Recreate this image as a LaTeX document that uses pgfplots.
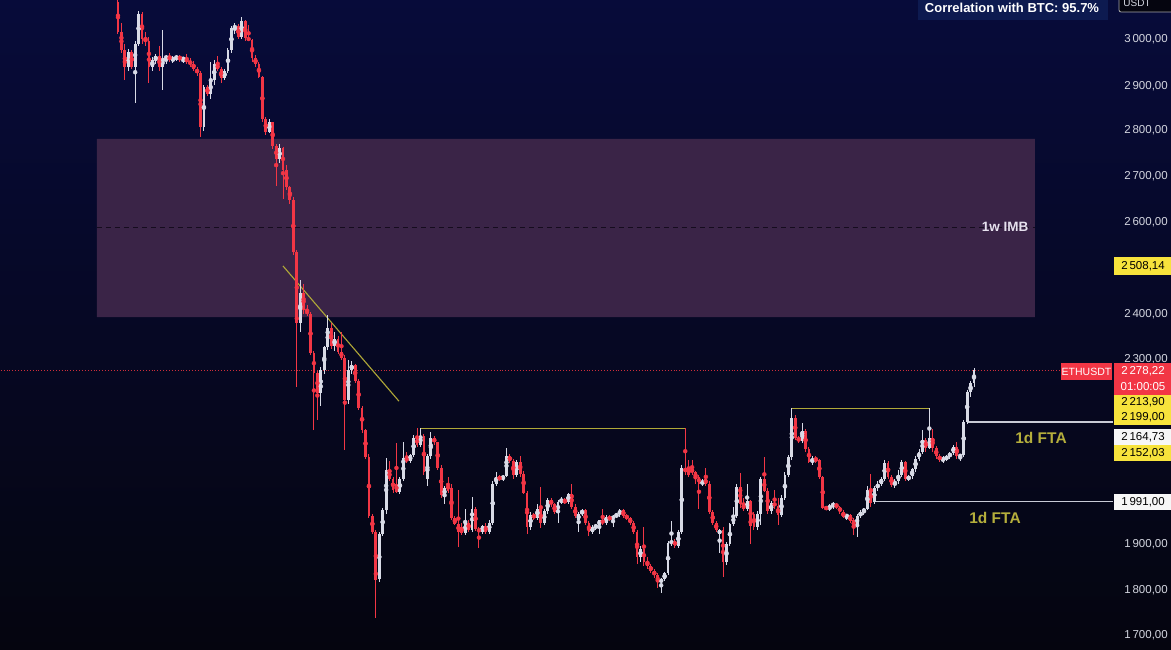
\documentclass[border=0pt]{standalone}
\usepackage{pgfplots}
\pgfplotsset{compat=1.18}
\usepackage{pgfplotstable}
\usepackage{fontspec}
\setmainfont{Liberation Sans}
\definecolor{bgtop}{HTML}{070B3A}
\definecolor{bgbot}{HTML}{05050F}
\definecolor{imb}{HTML}{3A2447}
\definecolor{imbdash}{HTML}{150C1E}
\definecolor{upc}{HTML}{D8DAE6}
\definecolor{dnc}{HTML}{F23645}
\definecolor{olivel}{HTML}{B0A838}
\definecolor{olivetxt}{HTML}{B5AE3C}
\definecolor{lvl}{HTML}{C8CAD6}
\definecolor{ylab}{HTML}{F7E33C}
\definecolor{corrbox}{HTML}{0D1A50}
\definecolor{ptxt}{HTML}{D4D6E0}
\definecolor{imbtxt}{HTML}{E6E1EE}

\pgfplotstableread{
o h l c
3080 3092 3010 3015
3015 3035 2970 2975
2975 2990 2910 2940
2940 2978 2930 2972
2972 2975 2935 2940
2940 2995 2860 2990
2990 3062 2985 3055
3055 3058 2990 3000
3000 3015 2985 2995
2995 3005 2905 2940
2940 2960 2930 2955
2955 2968 2945 2962
2962 2985 2930 2938
2938 3020 2888 2958
2958 2965 2945 2962
2962 2970 2950 2955
2955 2962 2948 2958
2958 2965 2952 2962
2962 2966 2950 2956
2956 2960 2948 2958
2958 2968 2945 2950
2950 2958 2940 2946
2946 2952 2930 2935
2935 2940 2920 2925
2925 2930 2786 2808
2808 2900 2800 2895
2895 2900 2875 2880
2880 2950 2870 2910
2910 2955 2900 2945
2945 2962 2930 2935
2935 2940 2905 2915
2915 2935 2910 2930
2930 2980 2925 2976
2976 3028 2970 3024
3024 3035 3010 3028
3028 3032 3000 3005
3005 3048 3000 3040
3040 3042 2995 3002
3002 3030 2995 2998
2998 3000 2950 2958
2958 2965 2940 2945
2945 2950 2915 2917
2917 2920 2820 2825
2825 2830 2790 2798
2798 2825 2795 2818
2818 2820 2760 2766
2766 2770 2680 2738
2738 2770 2730 2762
2762 2765 2650 2715
2715 2725 2670 2677
2677 2680 2640 2649
2649 2655 2530 2535
2535 2540 2241 2381
2381 2474 2360 2446
2446 2465 2400 2409
2409 2420 2395 2400
2400 2405 2310 2315
2315 2320 2147 2271
2271 2275 2170 2228
2228 2285 2200 2278
2278 2330 2270 2328
2328 2398 2322 2370
2370 2380 2325 2330
2330 2360 2320 2345
2345 2352 2312 2318
2318 2360 2300 2305
2305 2310 2104 2213
2213 2300 2205 2278
2278 2298 2270 2290
2290 2292 2250 2255
2255 2258 2190 2195
2195 2200 2140 2147
2147 2150 2085 2089
2089 2095 1955 1960
1960 1965 1920 1925
1925 1930 1737 1820
1822 1925 1815 1920
1920 1978 1915 1973
1973 2086 1965 2060
2060 2080 2035 2040
2040 2045 2010 2016
2030 2119 2010 2012
2012 2045 2008 2040
2040 2121 2035 2086
2086 2100 2075 2080
2080 2095 2075 2093
2093 2136 2088 2130
2130 2152 2110 2115
2115 2152 2110 2135
2135 2138 2050 2055
2040 2095 2025 2090
2090 2142 2085 2130
2130 2135 2115 2120
2120 2122 2060 2065
2065 2070 2000 2005
2005 2025 1985 2020
2028 2045 2010 2015
2020 2030 1950 1955
1955 1960 1940 1942
1942 2016 1892 1925
1935 1945 1918 1923
1923 1975 1918 1945
1945 1950 1925 1930
1930 2001 1925 1975
1975 1980 1928 1932
1932 1935 1890 1925
1925 1940 1920 1938
1938 1945 1920 1925
1925 1950 1920 1945
1945 2035 1940 2030
2030 2055 2025 2045
2045 2050 2035 2040
2040 2050 2035 2048
2048 2108 2045 2090
2090 2095 2075 2080
2080 2085 2040 2050
2050 2082 2045 2078
2078 2090 2045 2052
2052 2058 2008 2010
2010 2015 1920 1936
1936 1968 1930 1962
1962 1966 1952 1956
1956 1985 1950 1975
1975 2023 1934 1945
1945 1975 1940 1970
1970 1998 1965 1995
1995 1998 1980 1985
1985 1988 1965 1968
1968 1995 1945 1990
1990 2002 1985 1995
1995 1998 1985 1990
1990 2010 1985 2008
2008 2030 1975 1980
1980 1985 1955 1960
1950 1968 1925 1965
1965 1975 1960 1972
1972 1975 1940 1945
1945 1948 1915 1925
1925 1940 1920 1935
1935 1942 1930 1940
1940 1952 1920 1950
1950 1975 1940 1945
1945 1962 1940 1958
1958 1962 1948 1952
1952 1962 1935 1960
1960 1966 1955 1963
1963 1976 1958 1973
1973 1976 1955 1960
1960 1965 1950 1955
1955 1958 1940 1945
1945 1948 1920 1925
1925 1930 1855 1870
1870 1895 1860 1888
1888 1936 1850 1860
1860 1870 1845 1850
1850 1855 1835 1840
1840 1845 1825 1830
1830 1835 1803 1815
1815 1825 1792 1822
1822 1838 1818 1835
1835 1905 1830 1900
1900 1948 1895 1905
1905 1910 1890 1895
1895 1930 1890 1925
1925 2070 1920 2065
2065 2152 2050 2055
2064 2082 2045 2050
2062 2082 2050 2055
2055 2058 2030 2042
2045 2050 1975 2030
2030 2040 2025 2036
2040 2065 2025 2030
2030 2035 1965 1968
1968 1972 1940 1945
1945 1948 1925 1930
1920 1932 1880 1930
1930 1935 1827 1860
1860 1902 1852 1898
1898 1945 1895 1942
1942 1979 1938 1960
1960 2030 1955 2023
2023 2053 1978 1985
1985 2000 1970 1975
1975 2030 1970 1992
1992 1995 1898 1938
1965 1968 1930 1936
1936 1970 1930 1965
1965 2045 1940 2040
2040 2089 2012 2015
2015 2020 1965 1970
1970 1992 1965 1988
1988 2016 1975 1982
1982 2000 1940 1962
1962 2005 1958 1998
1998 2055 1995 2050
2050 2092 2045 2088
2088 2196 2082 2174
2174 2180 2125 2130
2130 2135 2118 2124
2124 2162 2118 2145
2145 2150 2100 2106
2106 2110 2075 2078
2078 2090 2070 2085
2085 2090 2075 2082
2082 2085 2040 2045
2045 2048 1975 1978
1978 1982 1972 1976
1976 1985 1970 1982
1982 1990 1975 1986
1986 1988 1975 1980
1980 1982 1965 1968
1968 1972 1955 1958
1958 1965 1950 1962
1962 1965 1945 1948
1950 1955 1918 1938
1938 1965 1914 1960
1960 1972 1955 1968
1968 1978 1962 1976
1976 2025 1972 2016
2016 2052 1980 1988
1991 2025 1985 2021
2021 2035 2015 2030
2030 2045 2025 2040
2040 2082 2035 2076
2076 2080 2040 2045
2045 2050 2022 2028
2028 2040 2020 2036
2036 2060 2030 2050
2050 2082 2045 2078
2078 2080 2035 2040
2040 2050 2035 2046
2046 2065 2040 2062
2062 2090 2055 2085
2085 2105 2080 2100
2100 2147 2095 2125
2125 2130 2100 2108
2108 2196 2105 2130
2130 2150 2100 2108
2108 2112 2085 2090
2090 2095 2078 2082
2082 2090 2075 2085
2085 2092 2080 2088
2088 2100 2085 2098
2098 2115 2092 2110
2110 2120 2085 2090
2090 2095 2080 2092
2092 2170 2088 2165
2165 2235 2160 2230
2230 2255 2220 2250
2250 2283 2240 2278
}\candles
\pgfplotstablecreatecol[expr={\pgfplotstablerow}]{i}{\candles}

\pgfplotsset{
  candle/.style n args={2}{only marks, mark=none, forget plot, color=#1,
    error bars/.cd, y dir=both, y explicit, error mark=none,
    error mark options={draw=none, fill=none, mark size=0pt},
    error bar style={draw=#1, line width=#2}},
}

\begin{document}
\begin{tikzpicture}
\path[use as bounding box] (0,0) rectangle (1171pt,649pt);
\shade[top color=bgtop, bottom color=bgbot] (0,0) rectangle (1171pt,649pt);
\begin{axis}[at={(0pt,0pt)}, anchor=south west, scale only axis,
  width=1113pt, height=649pt,
  xmin=-34.32, xmax=289.43, ymin=1669.6, ymax=3085.1,
  hide axis, clip=true]
% 1w imbalance zone
\addplot[fill=imb, draw=none, forget plot] coordinates {(-6.11,2393.7) (266.7,2393.7) (266.7,2782) (-6.11,2782) (-6.11,2393.7)};
\addplot[draw=imbdash, dash pattern=on 5pt off 4pt, line width=0.9pt, forget plot] coordinates {(-6.11,2588) (266.7,2588)};
% levels
\addplot[draw=dnc!85!black, dotted, line width=0.9pt, forget plot] coordinates {(-40,2278.22) (295,2278.22)};
\addplot[draw=olivel, line width=1.1pt, forget plot] coordinates {(48.0,2505) (81.74,2210)};
\addplot[draw=olivel, line width=1.2pt, forget plot] coordinates {(87.85,2151) (164.9,2151)};
\addplot[draw=olivel, line width=1.2pt, forget plot] coordinates {(196.1,2195) (236.2,2195)};
\addplot[draw=lvl, line width=1.1pt, forget plot] coordinates {(246.96,2164.73) (295,2164.73)};
\addplot[draw=lvl, line width=1.1pt, forget plot] coordinates {(220.5,1991) (295,1991)};
% candles: wicks
\addplot[restrict expr to domain={\thisrow{c}-\thisrow{o}}{0:100000}, candle={upc}{1pt}]
  table[x=i, y expr={(\thisrow{h}+\thisrow{l})/2}, y error expr={(\thisrow{h}-\thisrow{l})/2}] {\candles};
\addplot[restrict expr to domain={\thisrow{o}-\thisrow{c}}{0.0001:100000}, candle={dnc}{1pt}]
  table[x=i, y expr={(\thisrow{h}+\thisrow{l})/2}, y error expr={(\thisrow{h}-\thisrow{l})/2}] {\candles};
% candles: bodies
\addplot[restrict expr to domain={\thisrow{c}-\thisrow{o}}{0:100000}, candle={upc}{2.8pt}]
  table[x=i, y expr={(\thisrow{o}+\thisrow{c})/2}, y error expr={max(abs(\thisrow{c}-\thisrow{o})/2,2)}] {\candles};
\addplot[restrict expr to domain={\thisrow{o}-\thisrow{c}}{0.0001:100000}, candle={dnc}{2.8pt}]
  table[x=i, y expr={(\thisrow{o}+\thisrow{c})/2}, y error expr={max(abs(\thisrow{c}-\thisrow{o})/2,2)}] {\candles};
\end{axis}

\begin{scope}[x=1pt, y=-1pt, yshift=649pt]
% annotations
\node[text=imbtxt, font=\bfseries\fontsize{13.5}{15}\selectfont] at (1005,227) {1w IMB};
\node[text=olivetxt, font=\bfseries\fontsize{15.5}{17}\selectfont] at (1041,438) {1d FTA};
\node[text=olivetxt, font=\bfseries\fontsize{15.5}{17}\selectfont] at (995,518) {1d FTA};
% correlation box
\fill[corrbox] (918,-3) rectangle (1108,20);
\node[text=white, font=\bfseries\fontsize{13}{14}\selectfont] at (1012,8) {Correlation with BTC: 95.7\%};
\draw[fill=bgbot, draw=gray!70, rounded corners=2pt, line width=0.8pt] (1119,-8) rectangle (1190,12);
\node[text=ptxt, font=\fontsize{10}{11}\selectfont] at (1137,3) {USDT};
% price scale
\begin{scope}[every node/.style={text=ptxt, font=\fontsize{11.5}{12}\selectfont}]
\node at (1146,39) {3\,000,00};
\node at (1146,86) {2\,900,00};
\node at (1146,130) {2\,800,00};
\node at (1146,176) {2\,700,00};
\node at (1146,222) {2\,600,00};
\node at (1146,314) {2\,400,00};
\node at (1146,359) {2\,300,00};
\node at (1146,544) {1\,900,00};
\node at (1146,590) {1\,800,00};
\node at (1146,635) {1\,700,00};
\end{scope}
\begin{scope}[every node/.style={font=\fontsize{11.5}{12}\selectfont}]
\fill[ylab] (1114,257) rectangle (1171,275); \node[text=black] at (1143,266) {2\,508,14};
\fill[dnc] (1061,363) rectangle (1112,380); \node[text=white, font=\fontsize{10.5}{11}\selectfont] at (1086.5,371.5) {ETHUSDT};
\fill[dnc] (1114,363) rectangle (1171,395);
\node[text=white] at (1143,371) {2\,278,22};
\node[text=white] at (1143,387) {01:00:05};
\fill[ylab] (1114,395) rectangle (1171,409); \node[text=black] at (1143,402) {2\,213,90};
\fill[ylab] (1114,409) rectangle (1171,425); \node[text=black] at (1143,417) {2\,199,00};
\fill[white!94!gray] (1114,429) rectangle (1171,445); \node[text=black] at (1143,437) {2\,164,73};
\fill[ylab] (1114,445) rectangle (1171,461); \node[text=black] at (1143,453) {2\,152,03};
\fill[white!94!gray] (1114,494) rectangle (1171,510); \node[text=black] at (1143,502) {1\,991,00};
\end{scope}
\end{scope}
\end{tikzpicture}
\end{document}
